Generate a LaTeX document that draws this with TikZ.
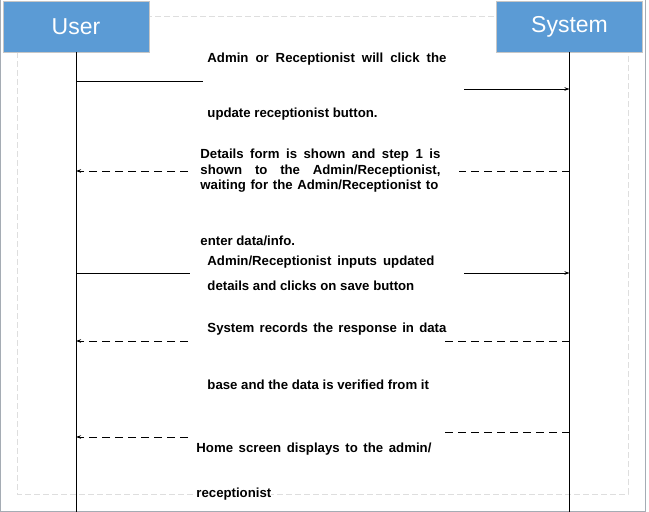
\documentclass[tikz,border=0pt]{standalone}
\usepackage{fontspec}
\setmainfont{Liberation Sans}
\usetikzlibrary{arrows.meta}
\definecolor{actorblue}{RGB}{91,155,213}
\definecolor{framegray}{RGB}{222,222,222}
\definecolor{edgegray}{RGB}{165,172,180}
\tikzset{
  actor/.style={draw=gray!45, fill=actorblue, text=white, font=\fontsize{23}{23}\selectfont,
    minimum width=146pt, minimum height=51pt, inner sep=0pt},
  msg/.style={anchor=west, inner sep=0pt, fill=white, font=\bfseries\fontsize{13.2}{15}\selectfont},
  back/.style={dash pattern=on 8pt off 5pt},
  reply/.style={->, back},
}
\begin{document}
\begin{tikzpicture}[x=1pt,y=-1pt,line width=0.9pt,>={Stealth[length=5pt,width=3.5pt]}]
\useasboundingbox (0,0) rectangle (649,512);
% page edge and frame
\draw [edgegray,line width=1pt] (0.5,0) -- (0.5,511.5) -- (645.5,511.5) -- (645.5,0);
\draw [framegray,line width=0.7pt,dash pattern=on 6pt off 3pt] (17,16) rectangle (628,494);
% actors and lifelines
\node (user) [actor] at (76,26.5) {User};
\node (system) [actor] at (569.5,26.5) {System};
\coordinate (userend) at (76,512);
\coordinate (sysend) at (569.5,512);
\draw (user.south) -- (userend);
\draw (system.south) -- (sysend);
% step 1
\coordinate (a1) at (203,81);
\coordinate (b1) at (464,89);
\draw (user |- a1) -- (a1);
\draw [->] (b1) -- (system |- b1);
\node (t1a) [msg] at (207,59) {\makebox[239pt][s]{Admin or Receptionist will click the}};
\node (t1b) [msg] at (207,114) {update receptionist button.};
% step 2
\coordinate (a2) at (188,171);
\coordinate (b2) at (459,171);
\draw [reply] (a2) -- (user |- a2);
\draw [back] (system |- b2) -- (b2);
\node (t2a) [msg] at (200,155) {\makebox[240pt][s]{Details form is shown and step 1 is}};
\node (t2b) [msg] at (200,171) {\makebox[240pt][s]{shown to the Admin/Receptionist,}};
\node (t2c) [msg] at (200,186) {\makebox[238pt][s]{waiting for the Admin/Receptionist to}};
\node (t2d) [msg] at (200,241) {enter data/info.};
% step 3
\coordinate (a3) at (190,273);
\coordinate (b3) at (464,273);
\draw (user |- a3) -- (a3);
\draw [->] (b3) -- (system |- b3);
\node (t3a) [msg] at (207,262) {\makebox[227pt][s]{Admin/Receptionist inputs updated}};
\node (t3b) [msg] at (207,286) {details and clicks on save button};
% step 4
\coordinate (a4) at (188,341);
\coordinate (b4) at (441,341);
\draw [reply] (a4) -- (user |- a4);
\draw [back] (system |- b4) -- (b4);
\node (t4a) [msg] at (207,329) {\makebox[239pt][s]{System records the response in data}};
\node (t4b) [msg] at (207,385) {base and the data is verified from it};
% step 5
\coordinate (a5) at (188,437);
\coordinate (b5) at (440,432);
\draw [reply] (a5) -- (user |- a5);
\draw [back] (system |- b5) -- (b5);
\node (t5a) [msg] at (196,449) {\makebox[235pt][s]{Home screen displays to the admin/}};
\node (t5b) [msg] at (196,494) {receptionist};
\end{tikzpicture}
\end{document}
